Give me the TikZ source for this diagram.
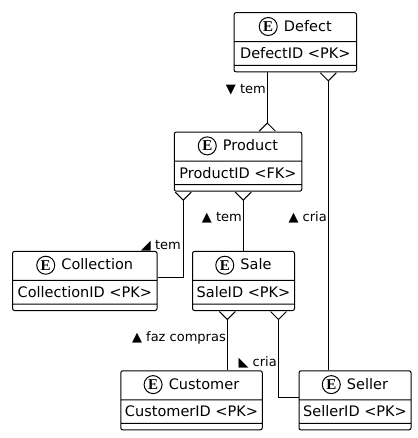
\documentclass[tikz,border=0pt]{standalone}
\usepackage{fontspec}
\setmainfont{DejaVu Sans}
\newfontfamily\markfont{Liberation Serif}[Scale=1.0]
\usetikzlibrary{
  arrows.meta,
  positioning,
  shapes.multipart,
}
\newcommand{\headstrut}{\rule[-10pt]{0pt}{28pt}}
\newcommand{\idstrut}{\rule[-6pt]{0pt}{22.6pt}}
\tikzset{
  crow/.tip={Straight Barb[reversed,length=8pt,width=16pt,line width=1pt]},
  entity/.style={draw,line width=1pt,rounded corners=2pt,rectangle split,rectangle split parts=3,rectangle split empty part height=2.6pt,rectangle split empty part depth=0pt,inner xsep=0pt,inner ysep=0pt,font=\fontsize{14.5}{16}\selectfont},
  entitymark/.style={draw,circle,line width=1pt,inner sep=0pt,minimum size=18pt,xshift=9.3pt,yshift=4.7pt,font=\fontsize{15}{16}\markfont\bfseries},
  rel/.style={line width=1pt},
  rellabel/.style={inner sep=0pt,font=\fontsize{13}{15}\selectfont},
}
\begin{document}
\begin{tikzpicture}[x=1pt,y=1pt,node distance=59.3pt and 0pt]
        \useasboundingbox (0,0) rectangle (417,-438);

        \node[entity,minimum width=122.5pt]    (defect) at (295.3,-12.2)  [anchor=north]   {\headstrut\hspace*{25pt}Defect\nodepart{two}\idstrut DefectID <PK>\nodepart{three}};
        \node[entity,minimum width=127.5pt,xshift=-57.3]    (product) [below=of defect]    {\headstrut\hspace*{25pt}Product\nodepart{two}\idstrut ProductID <FK>\nodepart{three}};
        \node[entity,minimum width=144.5pt,xshift=-153.2]    (collection) [below=of product]    {\headstrut\hspace*{25pt}Collection\nodepart{two}\idstrut CollectionID <PK>\nodepart{three}};
        \node[entity,minimum width=102pt,xshift=5.5]    (sale) [below=of product]    {\headstrut\hspace*{25pt}Sale\nodepart{two}\idstrut SaleID <PK>\nodepart{three}};
        \node[entity,minimum width=141.5pt,xshift=-52]    (customer) [below=of sale]    {\headstrut\hspace*{25pt}Customer\nodepart{two}\idstrut CustomerID <PK>\nodepart{three}};
        \node[entity,minimum width=112pt,xshift=111.5]    (seller) [below=of sale]    {\headstrut\hspace*{25pt}Seller\nodepart{two}\idstrut SellerID <PK>\nodepart{three}};

        \node[entitymark]    (defectmark) at (defect.text)    {E};
        \node[entitymark]    (productmark) at (product.text)    {E};
        \node[entitymark]    (collectionmark) at (collection.text)    {E};
        \node[entitymark]    (salemark) at (sale.text)    {E};
        \node[entitymark]    (customermark) at (customer.text)    {E};
        \node[entitymark]    (sellermark) at (seller.text)    {E};

        \coordinate (collectionport) at ([yshift=14.6]collection.two east);
        \coordinate (sellerport) at ([yshift=14.6]seller.two west);
        \coordinate (collectionturn) at ([xshift=-54.7]product.south |- collectionport);
        \coordinate (sellerturn) at ([xshift=35]sale.south |- sellerport);

        \draw[rel,-crow] ([xshift=-28]defect.south) -- ([xshift=29.3]product.north);
        \draw[rel,crow-] ([xshift=33]defect.south) -- ([xshift=-26.7]seller.north);
        \draw[rel,crow-] ([xshift=-54.7]product.south) -- (collectionturn) -- (collectionport);
        \draw[rel,crow-] ([xshift=5.3]product.south) -- ([xshift=-0.2]sale.north);
        \draw[rel,crow-] ([xshift=-16.2]sale.south) -- ([xshift=35.8]customer.north);
        \draw[rel,crow-] ([xshift=35]sale.south) -- (sellerturn) -- (sellerport);

        \node[rellabel,anchor=east]    (temdefect) at (266,-89.5)    {▼ tem};
        \node[rellabel,anchor=east]    (cria) at (327,-217.5)    {▲ cria};
        \node[rellabel,anchor=east]    (temsale) at (242,-217.5)    {▲ tem};
        \node[rellabel,anchor=east]    (temcollection) at (181,-245.5)    {◢ tem};
        \node[rellabel,anchor=east]    (fazcompras) at (226,-337.5)    {▲ faz compras};
        \node[rellabel,anchor=east]    (criasale) at (277,-362.5)    {◣ cria};

    \end{tikzpicture}
\end{document}
